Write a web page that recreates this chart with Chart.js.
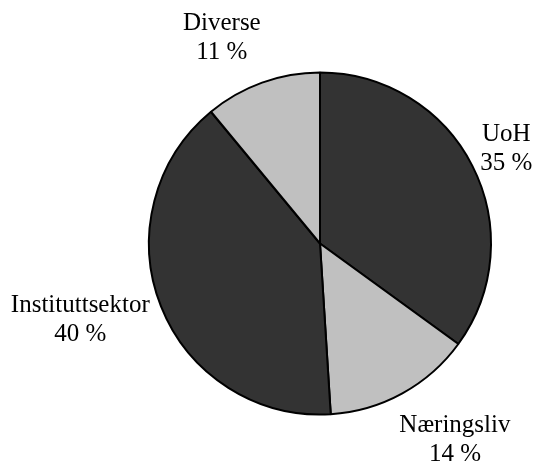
<!DOCTYPE html>
<html>
<head>
<meta charset="utf-8">
<script src="https://cdn.jsdelivr.net/npm/chart.js@4/dist/chart.umd.min.js"></script>
<style>
  html, body { margin: 0; padding: 0; background: #fff; }
  #wrap { width: 536px; height: 464px; }
</style>
</head>
<body>
<div id="wrap"><canvas id="sektorChart" width="536" height="464"></canvas></div>
<script>
const sectors = ['UoH', 'Næringsliv', 'Instituttsektor', 'Diverse'];
const shares = [35, 14, 40, 11];
const sliceColors = ['#333333', '#c0c0c0', '#333333', '#c0c0c0'];

// small hand nudges (px) so the labels sit where they read best
const labelNudge = [[0, 0], [20, 14], [-5, 0], [-23, -10]];

const outsideLabels = {
  id: 'outsideLabels',
  afterDatasetsDraw(chart) {
    const { ctx } = chart;
    const meta = chart.getDatasetMeta(0);
    ctx.save();
    ctx.font = '25px "Liberation Serif", "Times New Roman", serif';
    ctx.fillStyle = '#000';
    ctx.textAlign = 'center';
    ctx.textBaseline = 'middle';
    const lineGap = 29;

    meta.data.forEach((arc, i) => {
      const { x, y, startAngle, endAngle, outerRadius } = arc.getProps(
        ['x', 'y', 'startAngle', 'endAngle', 'outerRadius'], true);
      const mid = (startAngle + endAngle) / 2;
      const lines = [sectors[i], shares[i] + ' %'];
      const halfW = Math.max(...lines.map((t) => ctx.measureText(t).width)) / 2;
      const halfH = 25;
      const r = outerRadius + 12;
      const ax = x + Math.cos(mid) * r;
      const ay = y + Math.sin(mid) * r;
      const cx = ax + Math.cos(mid) * halfW + labelNudge[i][0];
      const cy = ay + Math.sin(mid) * halfH + labelNudge[i][1];
      ctx.fillText(lines[0], cx, cy - lineGap / 2);
      ctx.fillText(lines[1], cx, cy + lineGap / 2);
    });
    ctx.restore();
  },
};

new Chart(document.getElementById('sektorChart').getContext('2d'), {
  type: 'pie',
  data: {
    labels: sectors,
    datasets: [
      {
        data: shares,
        backgroundColor: sliceColors,
        borderColor: '#000000',
        borderWidth: 2,
      },
    ],
  },
  options: {
    responsive: false,
    animation: false,
    layout: { padding: { left: 148, right: 44, top: 71, bottom: 48 } },
    plugins: {
      legend: { display: false },
      tooltip: { enabled: false },
    },
  },
  plugins: [outsideLabels],
});
</script>
</body>
</html>
